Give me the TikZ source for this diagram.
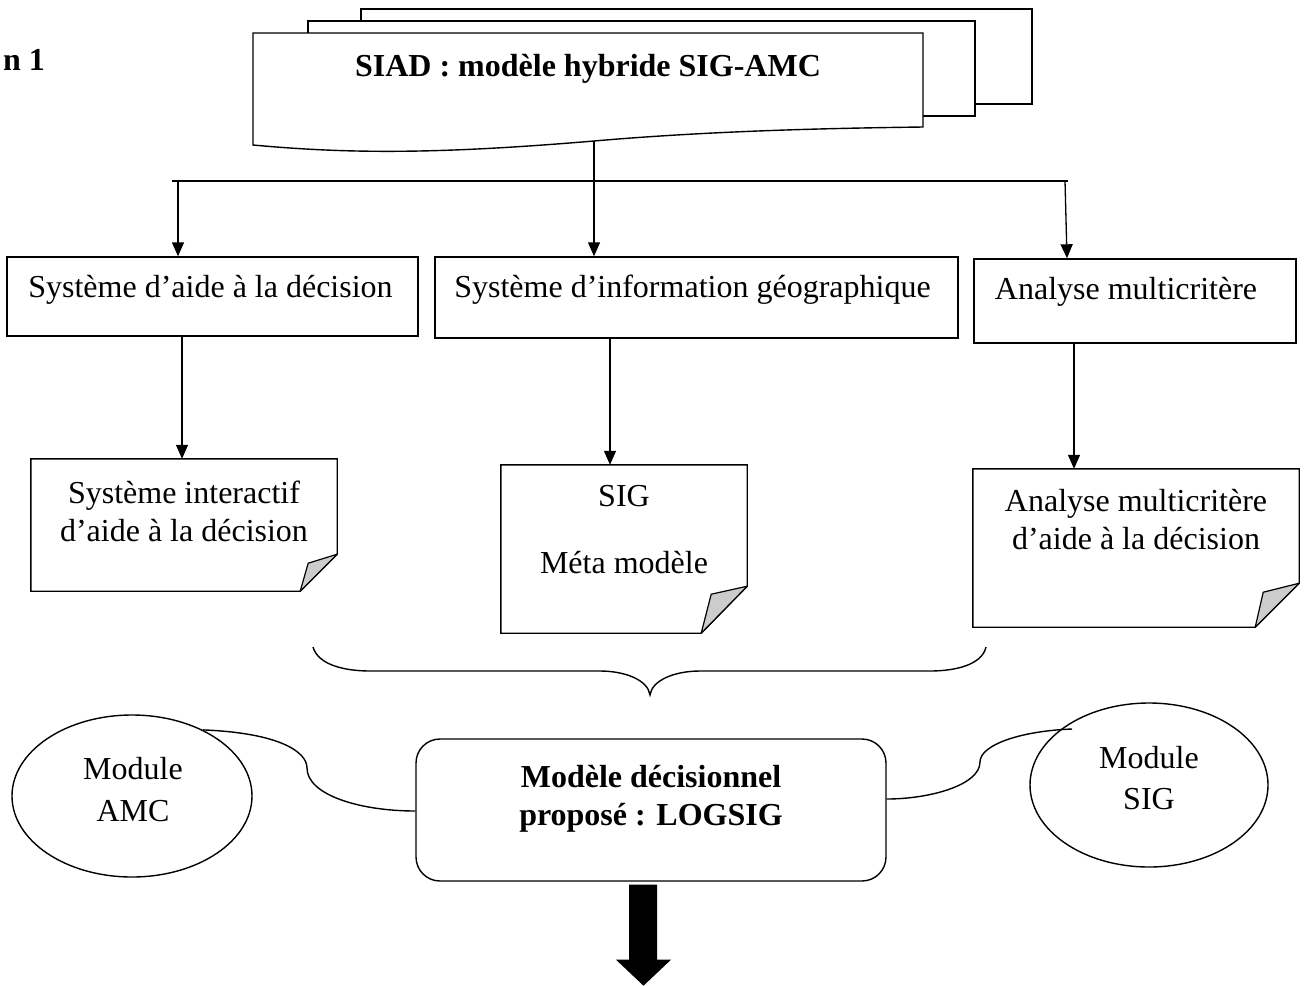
\documentclass[tikz,border=0pt]{standalone}
\usepackage{fontspec}
\setmainfont{Liberation Serif}
\usetikzlibrary{arrows.meta,shapes.geometric,calc}
\tikzset{
  ln/.style={line width=1.4pt},
  box/.style={draw, line width=1.4pt, rectangle, inner sep=0pt},
  txt/.style={font=\fontsize{32}{38}\selectfont, inner sep=0pt, anchor=base},
  btxt/.style={font=\bfseries\fontsize{32}{38}\selectfont, inner sep=0pt, anchor=base},
  arr/.style={line width=1.3pt, -{Triangle[length=14pt,width=12pt]}},
  docbox/.style={rectangle, inner sep=0pt},
  fold/.style={fill=black!20, line width=1.2pt, line join=round},
  ell/.style={draw, ellipse, line width=1.4pt, inner sep=0pt},
}
\newcommand\drawdoc[5]{% name, cut-left, cut-up, inner dx, inner dy
  \draw[ln, fill=white, line join=miter]
    (#1.north west) -- (#1.north east) -- ([yshift=#3pt]#1.south east)
    -- ([xshift=-#2pt]#1.south east) -- (#1.south west) -- cycle;
  \draw[fold] ([yshift=#3pt]#1.south east) -- ([xshift=-#4pt,yshift=#5pt]#1.south east)
    -- ([xshift=-#2pt]#1.south east) -- cycle;
}
\begin{document}
\begin{tikzpicture}[x=1pt,y=-1pt]
\useasboundingbox (0,0) rectangle (1305,985);

% partial heading
\node[btxt, anchor=base west] (head) at (3,70) {n 1};

% multi-document stack
\draw[ln, fill=white] (361,9) rectangle (1032,104);
\draw[ln, fill=white] (308,21) rectangle (975,116);
\coordinate (siadbot) at (594,141);
\draw[ln, fill=white] (253,33) -- (923,33) -- (923,127)
  .. controls (850,128) and (720,130) .. (siadbot)
  .. controls (440,154) and (350,154) .. (253,145) -- cycle;
\node[btxt] (title) at (588,76) {SIAD : modèle hybride SIG-AMC};

% distribution line
\coordinate (hl) at (172,181);
\coordinate (hr) at (1068,181);
\coordinate (al) at (178,181);
\coordinate (ar) at (1065,181);
\draw[ln] (hl) -- (hr);

% first-level boxes
\node[box, minimum width=411pt, minimum height=79pt] (b1) at (212.5,296.5) {};
\node[box, minimum width=523pt, minimum height=81pt] (b2) at (696.5,297.5) {};
\node[box, minimum width=322pt, minimum height=84pt] (b3) at (1135,301) {};
\node[txt] (t1) at (210.5,297) {Système d’aide à la décision};
\node[txt] (t2) at (692.5,297) {Système d’information géographique};
\node[txt] (t3) at (1126,299) {Analyse multicritère};

\draw[arr] (al) -- (b1.north -| al);
\draw[arr] (siadbot) -- (b2.north -| siadbot);
\draw[arr] (ar) -- (b3.north -| 1067,0);

% documents
\node[docbox, minimum width=306pt, minimum height=132pt] (d1) at (184,525) {};
\node[docbox, minimum width=246pt, minimum height=168pt] (d2) at (624,549) {};
\node[docbox, minimum width=326pt, minimum height=158pt] (d3) at (1136,548) {};
\drawdoc{d1}{37}{37}{29}{28}
\drawdoc{d2}{46}{47}{36}{39}
\drawdoc{d3}{44}{44}{36}{35}
\node[txt] (d1a) at (184,503) {Système interactif};
\node[txt] (d1b) at (184,541) {d’aide à la décision};
\node[txt] (d2a) at (624,506) {SIG};
\node[txt] (d2b) at (624,573) {Méta modèle};
\node[txt] (d3a) at (1136,511) {Analyse multicritère};
\node[txt] (d3b) at (1136,549) {d’aide à la décision};

\draw[arr] (b1.south -| 182,0) -- (d1.north -| 182,0);
\draw[arr] (b2.south -| 610,0) -- (d2.north -| 610,0);
\draw[arr] (b3.south -| 1074,0) -- (d3.north -| 1074,0);

% brace
\draw[ln] (313,647) .. controls (318,665) and (345,671) .. (370,671) -- (600,671)
  .. controls (625,671) and (648,680) .. (650,695)
  .. controls (652,680) and (675,671) .. (700,671) -- (930,671)
  .. controls (955,671) and (982,665) .. (986,647);

% proposed model
\node[box, rounded corners=24pt, minimum width=470pt, minimum height=142pt] (lg) at (651,810) {};
\node[btxt] (lg1) at (651,787) {Modèle décisionnel};
\node[btxt] (lg2) at (651,825) {proposé : LOGSIG};

% modules
\node[ell, minimum width=240pt, minimum height=162pt] (amc) at (132,796) {};
\node[txt] (amc1) at (133,779) {Module};
\node[txt] (amc2) at (133,821) {AMC};
\node[ell, minimum width=238pt, minimum height=164pt] (sig) at (1149,785) {};
\node[txt] (sig1) at (1149,768) {Module};
\node[txt] (sig2) at (1149,809) {SIG};
\coordinate (sigend) at ($(sig.center)+(-77,-56)$);

\draw[ln] (amc.43) .. controls (280,733) and (307,752) .. (307,768)
  .. controls (307,795) and (360,811) .. (lg.west |- 0,811);
\draw[ln] (sigend) .. controls (1020,731) and (980,745) .. (980,762)
  .. controls (980,785) and (930,799) .. (lg.east |- 0,799);

% output block arrow
\begin{scope}[shift={(lg.south)}]
  \fill (-22,3) -- (6,3) -- (6,78) -- (20,78) -- (-7.5,104) -- (-35,78) -- (-22,78) -- cycle;
\end{scope}
\end{tikzpicture}
\end{document}
